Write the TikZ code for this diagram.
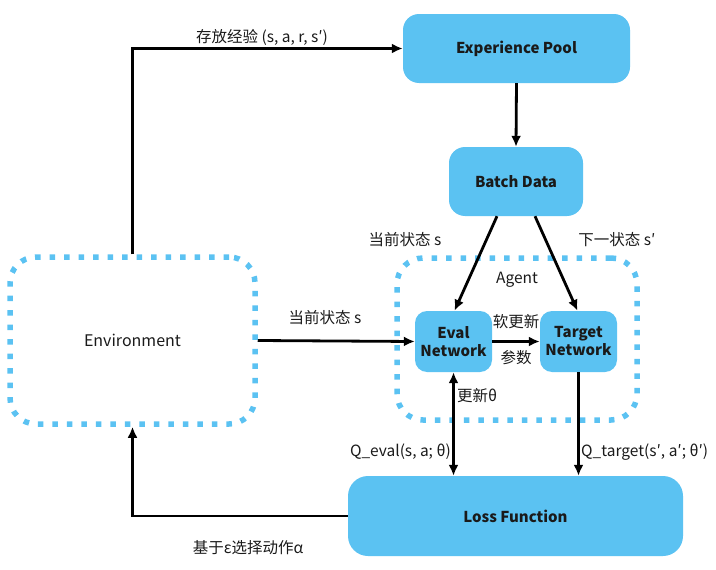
\documentclass[tikz,border=0pt]{standalone}
\usepackage{fontspec}
\setmainfont{Noto Sans CJK SC}
\usetikzlibrary{arrows.meta}

\definecolor{skyblue}{HTML}{5BC2F2}
\definecolor{inktext}{HTML}{1A1A1A}

\begin{document}
\begin{tikzpicture}[x=1pt, y=-1pt,
    block/.style={fill=skyblue, rounded corners=16pt, inner sep=0pt,
        font=\fontsize{15}{18}\selectfont\bfseries, text=inktext, align=center},
    dotbox/.style={draw=skyblue, line width=5.5pt, dash pattern=on 5.5pt off 9pt,
        rounded corners=26pt, inner sep=0pt, font=\fontsize{16}{19}\selectfont, text=inktext},
    flow/.style={line width=2.8pt, -{Latex[length=11pt, width=10pt]}},
    lbl/.style={font=\fontsize{15.5}{18}\selectfont, text=inktext, inner sep=2pt}]

    % Рамка картинки
    \useasboundingbox (0, 0) rectangle (716, 570);

    % Окружение и агент (пунктирные рамки)
    \node[dotbox, minimum width=245pt, minimum height=167pt] (env) at (132.5, 340.5) {Environment};
    \node[dotbox, minimum width=240pt, minimum height=162pt] (agent) at (517, 339) {};
    \node[lbl] (agentname) at (517, 280) {Agent};

    % Блоки
    \node[block, minimum width=227pt, minimum height=69pt] (pool) at (516.5, 48.5) {Experience Pool};
    \node[block, minimum width=134pt, minimum height=69pt] (batch) at (516, 181.5) {Batch Data};
    \node[block, rounded corners=12pt, minimum width=77pt, minimum height=61pt] (eval) at (453.5, 341.5) {Eval\\Network};
    \node[block, rounded corners=12pt, minimum width=77pt, minimum height=61pt] (target) at (578.5, 341.5) {Target\\Network};
    \node[block, rounded corners=20pt, minimum width=335pt, minimum height=80pt] (loss) at (515.5, 516) {Loss Function};

    % Сохранение опыта
    \draw[flow] (env.north) -- (env.north |- pool.west) -- (pool.west);
    \node[lbl] (store) at (262, 37) {存放经验 (s, a, r, s′)};
    \draw[flow] (pool.south) -- (batch.south |- batch.north);

    % Выборка из батча
    \draw[flow] ([xshift=-19pt]batch.south) -- ([xshift=1pt]eval.north);
    \draw[flow] ([xshift=19pt]batch.south) -- ([xshift=-1pt]target.north);
    \node[lbl] (curs) at (405, 240) {当前状态 s};
    \node[lbl] (nexts) at (617, 240) {下一状态 s′};

    % Состояние из окружения
    \draw[flow] (env.east) -- (eval.west);
    \node[lbl] (envs) at (325, 318) {当前状态 s};

    % Мягкое обновление
    \draw[flow] (eval.east) -- (target.west);
    \node[lbl] (soft) at (516, 322) {软更新};
    \node[lbl] (param) at (516, 358) {参数};

    % Связь с функцией потерь
    \draw[line width=2.8pt, {Latex[length=11pt, width=10pt]}-{Latex[length=11pt, width=10pt]}]
        (eval.south) -- (eval.south |- loss.north);
    \node[lbl, anchor=west] (upd) at (455, 396) {更新θ};
    \node[lbl, anchor=east] (qeval) at (453, 452) {Q\_eval(s, a; θ)};
    \draw[flow] (target.south) -- (target.south |- loss.north);
    \node[lbl, anchor=west] (qtarget) at (579, 452) {Q\_target(s′, a′; θ′)};

    % Выбор действия
    \draw[flow] (loss.west) -- (env.south |- loss.west) -- (env.south);
    \node[lbl] (act) at (248, 548) {基于ε选择动作α};
\end{tikzpicture}
\end{document}
